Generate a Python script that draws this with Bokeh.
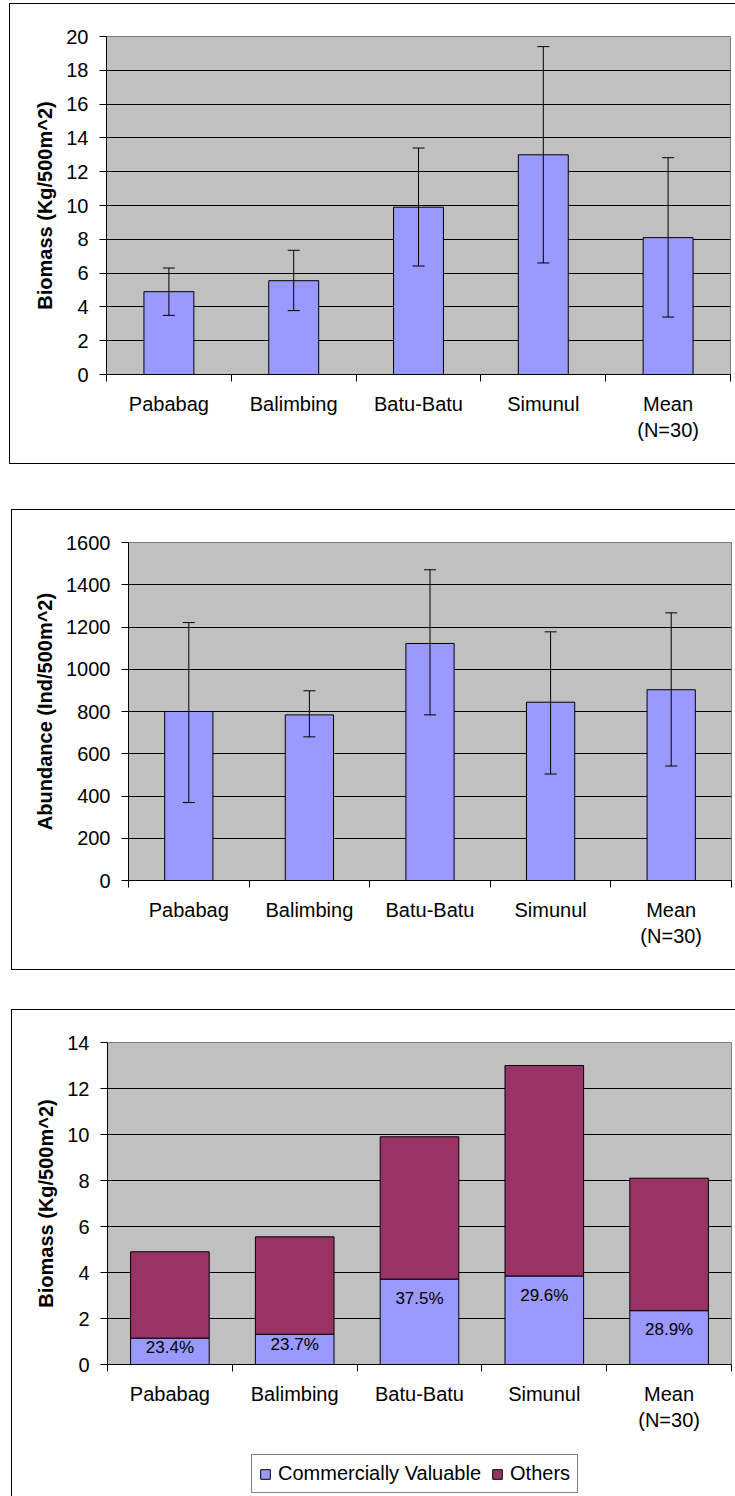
from bokeh.plotting import figure
from bokeh.layouts import column, row
from bokeh.models import (Range1d, FixedTicker, Whisker, TeeHead, ColumnDataSource,
                          Legend, LegendItem)
from bokeh.core.properties import value
from bokeh.embed import file_html
from bokeh.resources import INLINE

# ---------------- data ----------------
categories = ["Pababag", "Balimbing", "Batu-Batu", "Simunul", "Mean\n(N=30)"]

biomass = [4.9, 5.55, 9.9, 13.0, 8.1]
biomass_lower = [3.5, 3.78, 6.42, 6.6, 3.4]
biomass_upper = [6.3, 7.35, 13.4, 19.4, 12.83]

abundance = [800, 784, 1122, 844, 903]
abundance_lower = [369, 680, 784, 504, 542]
abundance_upper = [1221, 898, 1471, 1177, 1267]

commercial_pct = [23.4, 23.7, 37.5, 29.6, 28.9]

y1_ticks = [0, 2, 4, 6, 8, 10, 12, 14, 16, 18, 20]
y2_ticks = [0, 200, 400, 600, 800, 1000, 1200, 1400, 1600]
y3_ticks = [0, 2, 4, 6, 8, 10, 12, 14]

legend_labels = ["Commercially Valuable", "Others"]

# ---------------- style ----------------
FONT = "Liberation Sans"
BAR = "#9999FF"
OTHERS = "#993366"
PLOT_BG = "#C0C0C0"

n = len(categories)
centers = [i + 0.5 for i in range(n)]
bounds = [float(i) for i in range(n + 1)]


def base_figure(width, height, yticks, ylabel, mbl, mbr, mbt, mbb, margin, borders):
    p = figure(width=width, height=height,
               x_range=Range1d(0, n), y_range=Range1d(yticks[0], yticks[-1]),
               output_backend="svg", toolbar_location=None,
               min_border_left=mbl, min_border_right=mbr,
               min_border_top=mbt, min_border_bottom=mbb,
               margin=margin)
    p.styles = {b: "1px solid black" for b in borders}
    p.background_fill_color = PLOT_BG
    p.border_fill_color = "white"
    p.outline_line_color = "#808080"
    p.outline_line_width = 1

    p.xgrid.visible = False
    p.ygrid.ticker = FixedTicker(ticks=yticks[1:-1])
    p.ygrid.grid_line_color = "black"
    p.ygrid.grid_line_width = 1

    ya = p.yaxis[0]
    ya.ticker = FixedTicker(ticks=yticks)
    ya.axis_line_color = "black"
    ya.major_tick_line_color = "black"
    ya.major_tick_out = 7
    ya.major_tick_in = 0
    ya.minor_tick_out = 0
    ya.major_label_standoff = 11
    ya.major_label_text_font = FONT
    ya.major_label_text_font_size = "20px"
    ya.major_label_text_color = "black"
    ya.axis_label = ylabel
    ya.axis_label_text_font = FONT
    ya.axis_label_text_font_size = "20px"
    ya.axis_label_text_font_style = "bold"
    ya.axis_label_text_color = "black"
    ya.axis_label_standoff = 7

    xa = p.xaxis[0]
    xa.ticker = FixedTicker(ticks=centers, minor_ticks=bounds)
    xa.major_label_overrides = {c: lab for c, lab in zip(centers, categories)}
    xa.axis_line_color = "black"
    xa.major_tick_out = 0
    xa.major_tick_in = 0
    xa.minor_tick_out = 7
    xa.minor_tick_in = 0
    xa.minor_tick_line_color = "black"
    xa.major_label_standoff = 11
    xa.major_label_text_font = FONT
    xa.major_label_text_font_size = "20px"
    xa.major_label_text_color = "black"
    return p


def add_whiskers(p, lower, upper):
    src = ColumnDataSource(dict(x=centers, lower=lower, upper=upper))
    w = Whisker(base="x", lower="lower", upper="upper", source=src, level="overlay",
                line_color="black", line_width=1,
                upper_head=TeeHead(size=12, line_color="black", line_width=1),
                lower_head=TeeHead(size=12, line_color="black", line_width=1))
    p.add_layout(w)


# ---------------- chart 1: biomass ----------------
p1 = base_figure(726, 461, y1_ticks, "Biomass (Kg/500m^2)",
                 96, 6, 32, 91, (3, 0, 0, 9),
                 ["border-top", "border-left", "border-bottom"])
p1.vbar(x=centers, top=biomass, width=0.4, fill_color=BAR, line_color="black", line_width=1)
add_whiskers(p1, biomass_lower, biomass_upper)

# ---------------- chart 2: abundance ----------------
p2 = base_figure(724, 461, y2_ticks, "Abundance (Ind/500m^2)",
                 116, 5, 32, 91, (45, 0, 0, 11),
                 ["border-top", "border-left", "border-bottom"])
p2.vbar(x=centers, top=abundance, width=0.4, fill_color=BAR, line_color="black", line_width=1)
add_whiskers(p2, abundance_lower, abundance_upper)

# ---------------- chart 3: stacked biomass ----------------
commercial = [b * pc / 100.0 for b, pc in zip(biomass, commercial_pct)]
stack_src = ColumnDataSource(dict(x=centers, commercial=commercial, total=biomass))

p3 = base_figure(724, 436, y3_ticks, "Biomass (Kg/500m^2)",
                 95, 5, 32, 82, (39, 0, 0, 11),
                 ["border-top", "border-left"])
p3.vbar(x="x", bottom=0, top="commercial", width=0.63, source=stack_src,
        fill_color=BAR, line_color="black", line_width=1)
p3.vbar(x="x", bottom="commercial", top="total", width=0.63, source=stack_src,
        fill_color=OTHERS, line_color="black", line_width=1)
label_y = [c - min(0.85, 0.35 * c) for c in commercial]
p3.text(x=centers, y=label_y, text=[f"{pc}%" for pc in commercial_pct],
        text_font=value(FONT), text_font_size="17px", text_color="black",
        text_align="center", text_baseline="middle")

# ---------------- legend strip (continuation of chart 3's box) ----------------
# the same stacked series, muted (drawn fully transparent) and outside this strip's
# window, so that only their legend entries are shown
p4 = figure(width=724, height=51, x_range=Range1d(-n, 0), y_range=Range1d(-2, -1),
            output_backend="svg", toolbar_location=None,
            x_axis_location=None, y_axis_location=None,
            min_border=0, margin=(0, 0, 0, 11))
p4.styles = {"border-left": "1px solid black"}
p4.background_fill_color = "white"
p4.border_fill_color = "white"
p4.outline_line_color = None
p4.grid.visible = False
l_comm = p4.vbar(x="x", bottom=0, top="commercial", width=0.63, source=stack_src,
                 fill_color=BAR, line_color="black", line_width=1,
                 muted_alpha=0.0)
l_oth = p4.vbar(x="x", bottom="commercial", top="total", width=0.63, source=stack_src,
                fill_color=OTHERS, line_color="black", line_width=1,
                muted_alpha=0.0)
l_comm.muted = True
l_oth.muted = True
legend = Legend(items=[LegendItem(label=legend_labels[0], renderers=[l_comm]),
                       LegendItem(label=legend_labels[1], renderers=[l_oth])],
                location=(239, 3), orientation="horizontal",
                glyph_width=12, glyph_height=12, label_standoff=7,
                spacing=10, padding=7, margin=0,
                border_line_color="black", border_line_width=1,
                background_fill_color="white", background_fill_alpha=1.0,
                label_text_font=FONT, label_text_font_size="20px",
                label_text_color="black")
p4.add_layout(legend)

layout = column(row(p1), row(p2), row(p3), row(p4), spacing=0)

open("out.html", "w").write(file_html(layout, INLINE))
